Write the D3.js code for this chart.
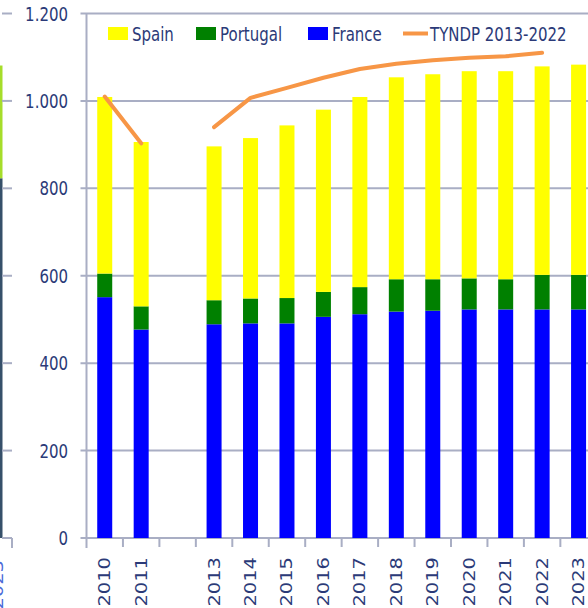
<!DOCTYPE html>
<html>
<head>
<meta charset="utf-8">
<script src="https://cdn.jsdelivr.net/npm/d3@7"></script>
<style>
  body { margin: 0; background: #fff; }
  svg { display: block; }
  text { font-family: "DejaVu Sans", sans-serif; font-size: 15px; fill: #2b3a78; }
</style>
</head>
<body>
<div id="chart"></div>
<script>
// values, 2012 has no data
var years    = ["2010","2011","2012","2013","2014","2015","2016","2017","2018","2019","2020","2021","2022","2023"];
var france   = [551, 477, null, 489, 491, 491, 506, 512, 518, 520, 523, 523, 523, 523];
var portugal = [54, 53, null, 55, 57, 58, 57, 62, 74, 72, 71, 69, 79, 79];
var spain    = [404, 376, null, 352, 367, 395, 417, 435, 462, 469, 474, 476, 477, 481];
var tyndp    = [1010, 903, null, 940, 1007, 1030, 1053, 1073, 1085, 1093, 1099, 1102, 1110, null];
var yTicks   = [0, 200, 400, 600, 800, 1000, 1200];
// sliver of the neighbouring chart on the left edge
var prevBar  = [{ v0: 0, v1: 823, c: "#36506a" }, { v0: 823, v1: 1081, c: "#a6dd2a" }];

var series = [
  { name: "France", values: france, color: "#0000ff" },
  { name: "Portugal", values: portugal, color: "#008000" },
  { name: "Spain", values: spain, color: "#ffff00" }
];

var W = 588, H = 608,
    mLeft = 86.5, mTop = 13.5, mBottom = 538,
    step = 36.45,
    stretch = 1.3;

var svg = d3.select("#chart").append("svg")
    .attr("width", W)
    .attr("height", H);

var x = d3.scaleBand()
    .domain(years)
    .range([mLeft, mLeft + step * years.length]);

var y = d3.scaleLinear()
    .domain([0, 1200])
    .range([mBottom, mTop]);

var fmt = d3.formatLocale({ decimal: ",", thousands: ".", grouping: [3], currency: ["", ""] }).format(",d");

// left fragment
svg.selectAll(".prev")
    .data(prevBar)
    .enter().append("rect")
    .attr("x", 0)
    .attr("width", 2.5)
    .attr("y", function(d) { return y(d.v1); })
    .attr("height", function(d) { return y(d.v0) - y(d.v1); })
    .style("fill", function(d) { return d.c; });

svg.selectAll(".prevtick")
    .data(yTicks)
    .enter().append("line")
    .attr("x1", 2).attr("x2", 12)
    .attr("y1", function(d) { return y(d); })
    .attr("y2", function(d) { return y(d); })
    .style("stroke", "#a9aec4").style("stroke-width", 2);

svg.append("line")
    .attr("x1", 12).attr("x2", 12)
    .attr("y1", y(0)).attr("y2", y(0) + 10)
    .style("stroke", "#a9aec4").style("stroke-width", 2);

svg.append("text")
    .attr("transform", "translate(3," + (y(0) + 22) + ") rotate(-90) scale(" + stretch + ",1)")
    .attr("text-anchor", "end")
    .style("fill", "#4a6ad8")
    .text("2023");

// gridlines
svg.selectAll(".grid")
    .data(yTicks)
    .enter().append("line")
    .attr("x1", mLeft - 6).attr("x2", W)
    .attr("y1", function(d) { return y(d); })
    .attr("y2", function(d) { return y(d); })
    .style("stroke", "#a9aec4").style("stroke-width", 2);

// y labels
svg.selectAll(".ylab")
    .data(yTicks)
    .enter().append("text")
    .attr("transform", function(d) { return "translate(68," + y(d) + ") scale(1," + stretch + ")"; })
    .attr("dy", "0.36em")
    .attr("text-anchor", "end")
    .text(function(d) { return fmt(d); });

// stacked bars
var barW = 15;
series.forEach(function(s, k) {
  svg.selectAll(".bar" + k)
      .data(years.map(function(yr, i) {
          var base = 0;
          for (var j = 0; j < k; j++) base += series[j].values[i] || 0;
          return { year: yr, v0: base, v1: s.values[i] == null ? null : base + s.values[i] };
      }).filter(function(d) { return d.v1 != null; }))
      .enter().append("rect")
      .attr("x", function(d) { return x(d.year) + x.bandwidth() / 2 - barW / 2; })
      .attr("width", barW)
      .attr("y", function(d) { return y(d.v1); })
      .attr("height", function(d) { return y(d.v0) - y(d.v1); })
      .style("fill", s.color);
});

// axes lines
svg.append("line")
    .attr("x1", mLeft).attr("x2", mLeft)
    .attr("y1", mTop).attr("y2", mBottom + 10)
    .style("stroke", "#a9aec4").style("stroke-width", 2);

svg.selectAll(".xtick")
    .data(years)
    .enter().append("line")
    .attr("x1", function(d) { return x(d) + step; })
    .attr("x2", function(d) { return x(d) + step; })
    .attr("y1", mBottom).attr("y2", mBottom + 9)
    .style("stroke", "#a9aec4").style("stroke-width", 2);

// x labels
svg.selectAll(".xlab")
    .data(years.filter(function(d, i) { return france[i] != null; }))
    .enter().append("text")
    .attr("transform", function(d) {
        return "translate(" + (x(d) + x.bandwidth() / 2 + 5.5) + "," + (mBottom + 19) + ") rotate(-90) scale(" + stretch + ",1)";
    })
    .attr("text-anchor", "end")
    .text(function(d) { return d; });

// TYNDP line
var line = d3.line()
    .defined(function(d) { return d.v != null; })
    .x(function(d) { return x(d.year) + x.bandwidth() / 2; })
    .y(function(d) { return y(d.v); });

svg.append("path")
    .datum(years.map(function(yr, i) { return { year: yr, v: tyndp[i] }; }))
    .attr("d", line)
    .style("fill", "none")
    .style("stroke", "#f79646")
    .style("stroke-width", 4)
    .style("stroke-linecap", "round")
    .style("stroke-linejoin", "round");

// legend
var legend = [
  { name: "Spain", color: "#ffff00", x: 108, type: "rect" },
  { name: "Portugal", color: "#008000", x: 196, type: "rect" },
  { name: "France", color: "#0000ff", x: 308, type: "rect" },
  { name: "TYNDP 2013-2022", color: "#f79646", x: 403, type: "line" }
];

var lg = svg.selectAll(".legend")
    .data(legend)
    .enter().append("g")
    .attr("transform", function(d) { return "translate(" + d.x + ",0)"; });

lg.filter(function(d) { return d.type === "rect"; }).append("rect")
    .attr("y", 27).attr("width", 20).attr("height", 13)
    .style("fill", function(d) { return d.color; });

lg.filter(function(d) { return d.type === "line"; }).append("line")
    .attr("x1", 0).attr("x2", 25).attr("y1", 33.5).attr("y2", 33.5)
    .style("stroke", function(d) { return d.color; })
    .style("stroke-width", 4);

lg.append("text")
    .attr("transform", function(d) { return "translate(" + (d.type === "line" ? 27 : 24) + ",40.5) scale(1," + stretch + ")"; })
    .text(function(d) { return d.name; });
</script>
</body>
</html>
